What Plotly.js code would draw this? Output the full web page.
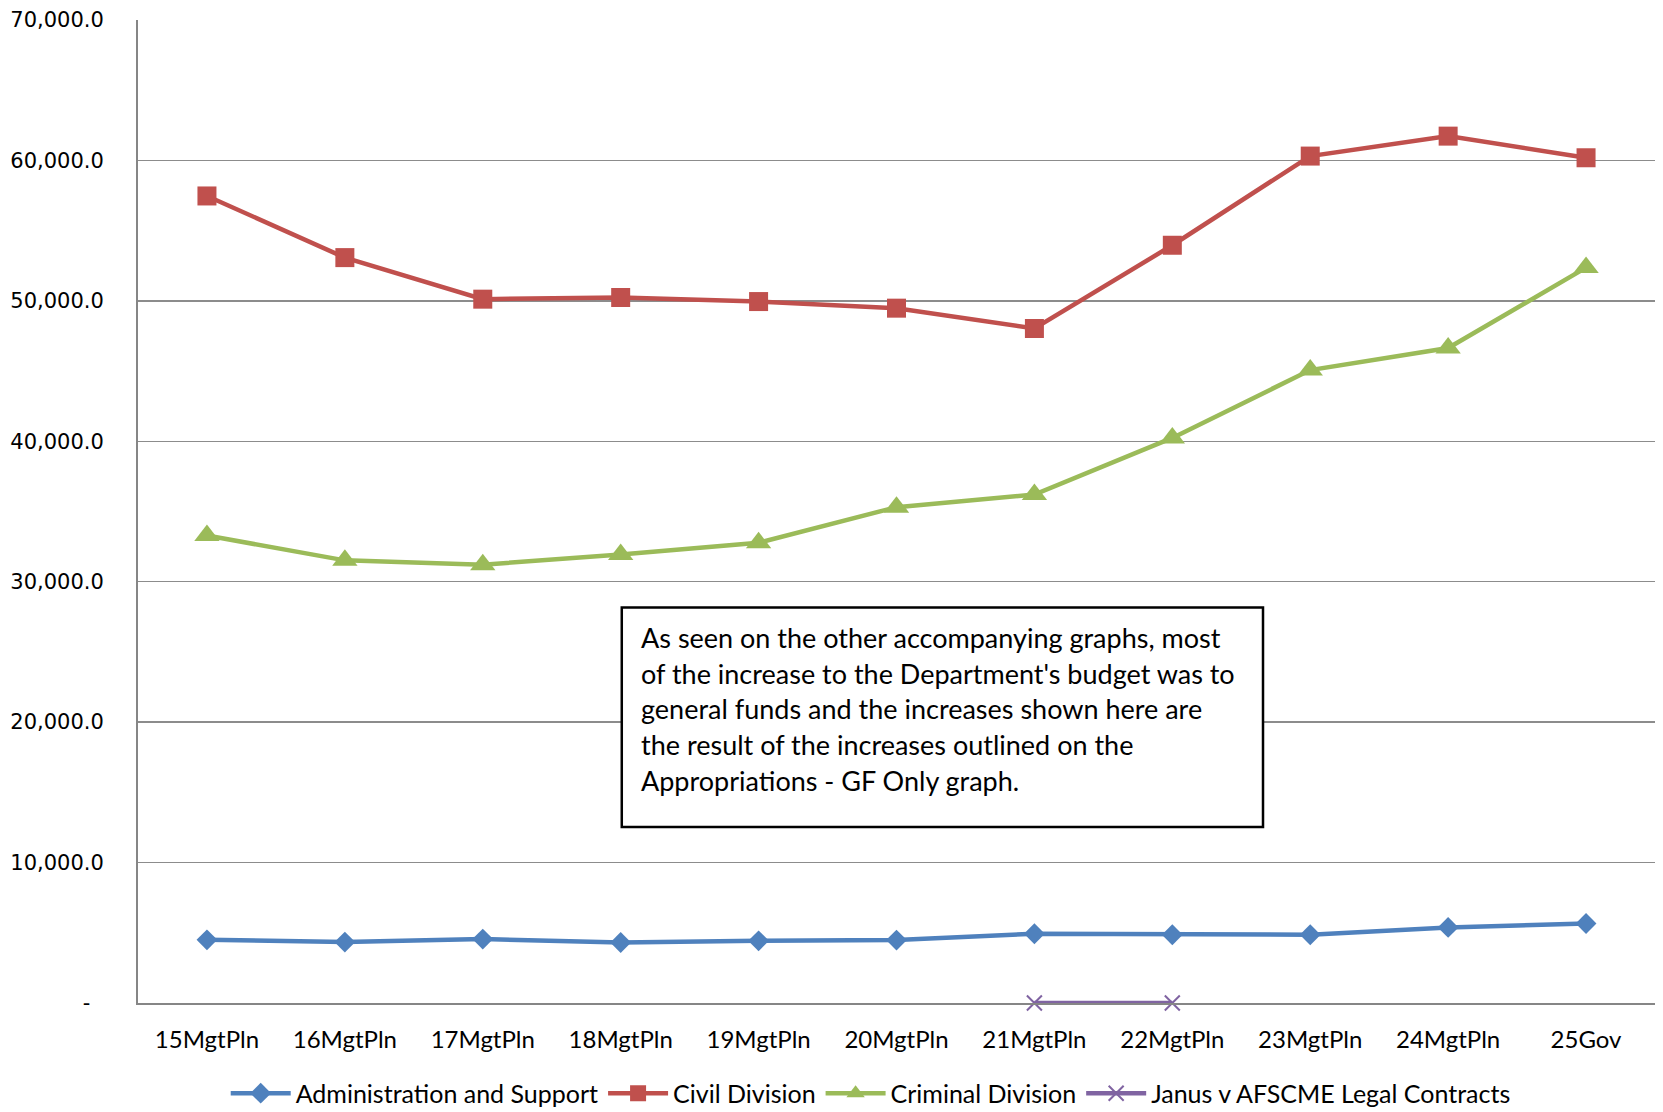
<!DOCTYPE html>
<html>
<head>
<meta charset="utf-8">
<script src="https://cdn.plot.ly/plotly-3.0.1.min.js"></script>
<style>
  html, body { margin: 0; padding: 0; background: #ffffff; }
  #chart { width: 1663px; height: 1112px; }
</style>
</head>
<body>
<div id="chart"></div>
<script>
// Fiscal-year plan labels along the x axis
const categories = ['15MgtPln', '16MgtPln', '17MgtPln', '18MgtPln', '19MgtPln', '20MgtPln',
                    '21MgtPln', '22MgtPln', '23MgtPln', '24MgtPln', '25Gov'];

// Appropriations by division (thousands)
const adminSupport = [4500, 4340, 4550, 4310, 4430, 4480, 4930, 4860, 4860, 5380, 5660];
const civilDivision = [57470, 53080, 50120, 50240, 49950, 49480, 48030, 53960, 60310, 61730, 60190];
const criminalDivision = [33290, 31520, 31210, 31940, 32770, 35310, 36210, 40240, 45070, 46640, 52370];
const janusContracts = [null, null, null, null, null, null, 0, 0, null, null, null];

// Y axis ticks
const yTickVals = [0, 10000, 20000, 30000, 40000, 50000, 60000, 70000];
const yTickText = ['-\u2007', '10,000.0', '20,000.0', '30,000.0', '40,000.0', '50,000.0', '60,000.0', '70,000.0'];

const noteLines = [
  'As seen on the other accompanying graphs, most',
  "of the increase to the Department's budget was to",
  'general funds and the increases shown here are',
  'the result of the increases outlined on the',
  'Appropriations - GF Only graph.'
];

const bodyFont = 'Lato, "Open Sans", sans-serif';

const traces = [
  {
    name: 'Administration and Support', x: categories, y: adminSupport,
    type: 'scatter', mode: 'lines+markers',
    line: { color: '#4F81BD', width: 4.5 },
    marker: { symbol: 'diamond', size: 16, color: '#4F81BD' }
  },
  {
    name: 'Civil Division', x: categories, y: civilDivision,
    type: 'scatter', mode: 'lines+markers',
    line: { color: '#C0504D', width: 4.5 },
    marker: { symbol: 'square', size: 19, color: '#C0504D' }
  },
  {
    name: 'Criminal Division', x: categories, y: criminalDivision,
    type: 'scatter', mode: 'lines+markers',
    line: { color: '#9BBB59', width: 4.5 },
    marker: { symbol: 'triangle-up', size: 22, color: '#9BBB59' }
  },
  {
    name: 'Janus v AFSCME Legal Contracts', x: categories, y: janusContracts,
    type: 'scatter', mode: 'lines+markers', cliponaxis: false,
    line: { color: '#8064A2', width: 4.5 },
    marker: { symbol: 'x-thin', size: 15, color: '#8064A2', line: { color: '#8064A2', width: 2 } }
  }
];

// Text box lines, stacked top to bottom
const lineY = [0.3721, 0.3354, 0.2998, 0.2632, 0.2265];
const annotations = noteLines.map((t, i) => ({
  text: t, xref: 'paper', yref: 'paper',
  x: 0.3305, y: lineY[i], xanchor: 'left', yanchor: 'middle',
  showarrow: false, align: 'left',
  font: { family: bodyFont, size: 27, color: '#000000' }
}));

const layout = {
  width: 1663, height: 1112,
  margin: { l: 138, r: 8, t: 20, b: 109, autoexpand: false },
  paper_bgcolor: '#ffffff', plot_bgcolor: '#ffffff',
  showlegend: true,
  legend: {
    orientation: 'h', x: 0.483, xanchor: 'center', y: -0.092, yanchor: 'middle',
    font: { family: bodyFont, size: 25, color: '#000000' },
    itemwidth: 60, tracegroupgap: 0
  },
  xaxis: {
    type: 'category', range: [-0.5, 10.5],
    showline: true, linecolor: '#868686', linewidth: 2,
    showgrid: false, zeroline: false, ticks: '',
    ticklabelstandoff: 14,
    tickfont: { family: bodyFont, size: 24, color: '#000000' }
  },
  yaxis: {
    range: [0, 70000], tickvals: yTickVals, ticktext: yTickText,
    showline: true, linecolor: '#868686', linewidth: 2,
    showgrid: true, gridcolor: '#8c8c8c', gridwidth: 1.5,
    zeroline: false, ticks: '',
    ticklabelstandoff: 28,
    tickfont: { family: '"DejaVu Sans", Verdana, sans-serif', size: 21, color: '#000000' }
  },
  shapes: [{
    type: 'rect', xref: 'paper', yref: 'paper', layer: 'above',
    x0: 0.3189, x1: 0.7416, y0: 0.179, y1: 0.4023,
    fillcolor: '#ffffff', line: { color: '#000000', width: 2.5 }
  }],
  annotations: annotations
};

Plotly.newPlot('chart', traces, layout, { displayModeBar: false, staticPlot: true });
</script>
</body>
</html>
